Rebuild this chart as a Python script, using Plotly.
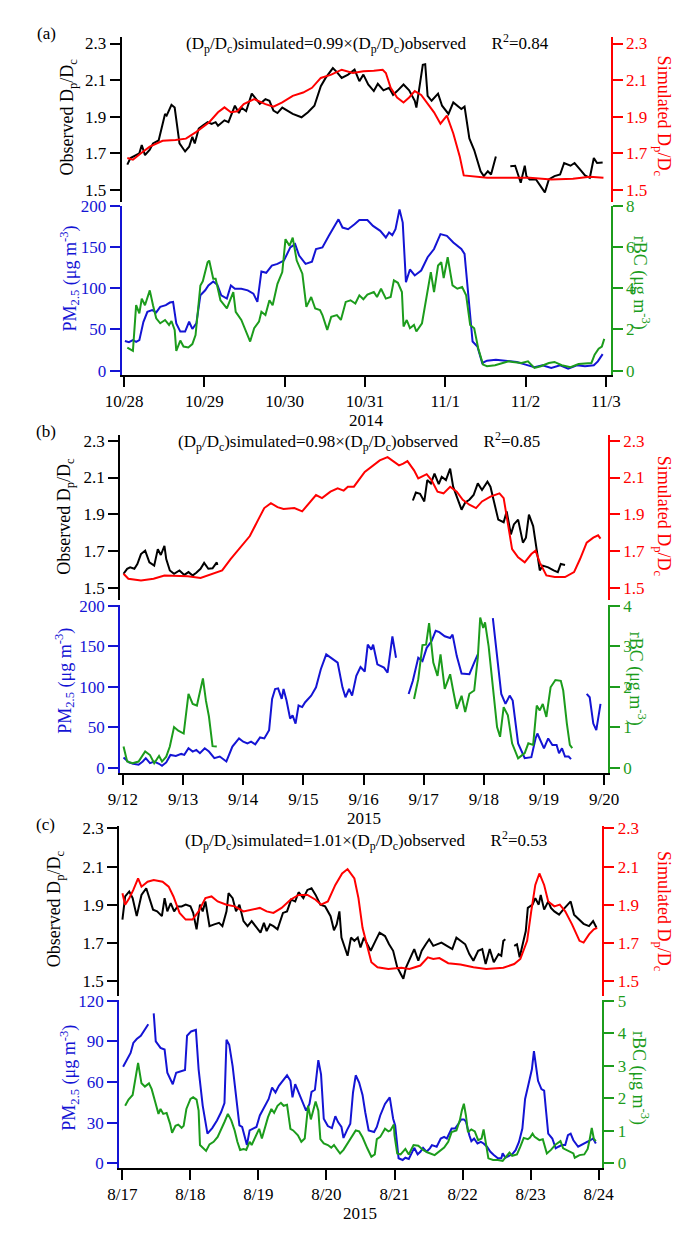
import plotly.graph_objects as go

GAP = (None, None)

# ---------------- panel (a): 2014, days after 10/28 00:00 ----------------
a_ticks = ["10/28", "10/29", "10/30", "10/31", "11/1", "11/2", "11/3"]
a_obs = [(0.04, 1.638), (0.08, 1.674), (0.19, 1.70), (0.22, 1.745), (0.26, 1.69), (0.32, 1.72),
         (0.36, 1.754), (0.43, 1.77), (0.51, 1.915), (0.53, 1.906), (0.59, 1.965), (0.63, 1.95),
         (0.69, 1.754), (0.76, 1.71), (0.81, 1.736), (0.85, 1.79), (0.88, 1.754), (0.93, 1.835),
         (0.98, 1.852), (1.04, 1.87), (1.09, 1.86), (1.14, 1.87), (1.17, 1.85), (1.25, 1.88),
         (1.30, 1.87), (1.38, 1.96), (1.43, 1.92), (1.46, 1.95), (1.52, 1.93), (1.59, 2.026),
         (1.62, 2.01), (1.69, 1.97), (1.76, 1.996), (1.81, 1.987), (1.86, 1.933), (1.91, 1.92),
         (1.97, 1.95), (2.03, 1.933), (2.10, 1.915), (2.21, 1.897), (2.29, 1.924), (2.37, 1.96),
         (2.45, 2.067), (2.51, 2.112), (2.55, 2.139), (2.60, 2.166), (2.65, 2.144), (2.71, 2.112),
         (2.79, 2.13), (2.87, 2.157), (2.93, 2.094), (2.98, 2.13), (3.04, 2.076), (3.11, 2.04),
         (3.16, 2.08), (3.23, 2.044), (3.30, 2.058), (3.35, 2.019), (3.40, 2.04), (3.48, 2.076),
         (3.55, 2.044), (3.62, 1.987), (3.64, 1.95), (3.68, 2.058), (3.72, 2.184), (3.75, 2.187),
         (3.78, 2.014), (3.83, 1.987), (3.91, 2.026), (3.96, 1.96), (4.04, 1.915), (4.10, 1.978),
         (4.15, 1.96), (4.20, 1.942), (4.24, 1.955), (4.30, 1.781), (4.36, 1.718), (4.44, 1.602),
         (4.48, 1.575), (4.53, 1.602), (4.57, 1.584), (4.63, 1.683), GAP,
         (4.81, 1.629), (4.87, 1.632), (4.94, 1.539), (4.99, 1.632), (5.01, 1.575), (5.05, 1.557),
         (5.13, 1.557), (5.19, 1.521), (5.24, 1.486), (5.29, 1.557), (5.36, 1.575), (5.43, 1.584),
         (5.48, 1.647), (5.56, 1.632), (5.61, 1.647), (5.68, 1.611), (5.74, 1.579), (5.80, 1.566),
         (5.85, 1.674), (5.89, 1.647), (5.96, 1.650)]
a_sim = [(0.04, 1.674), (0.11, 1.665), (0.21, 1.70), (0.32, 1.736), (0.48, 1.768), (0.64, 1.772),
         (0.77, 1.78), (0.90, 1.817), (1.06, 1.87), (1.17, 1.924), (1.25, 1.951), (1.33, 1.924),
         (1.41, 1.93), (1.49, 1.969), (1.62, 1.996), (1.76, 1.969), (1.86, 1.955), (1.97, 1.978),
         (2.10, 2.014), (2.23, 2.032), (2.34, 2.058), (2.45, 2.112), (2.58, 2.13), (2.71, 2.157),
         (2.85, 2.139), (2.98, 2.148), (3.11, 2.151), (3.22, 2.157), (3.26, 2.139), (3.32, 2.058),
         (3.40, 2.005), (3.48, 1.978), (3.55, 2.005), (3.62, 2.04), (3.70, 2.019), (3.78, 1.969),
         (3.86, 1.924), (3.94, 1.862), (4.02, 1.906), (4.10, 1.808), (4.18, 1.683), (4.23, 1.579),
         (4.31, 1.575), (4.52, 1.566), (4.79, 1.566), (5.05, 1.566), (5.32, 1.557), (5.59, 1.561),
         (5.80, 1.572), (5.97, 1.566)]
a_pm = [(0.01, 36), (0.06, 34.5), (0.11, 37), (0.15, 35), (0.19, 37), (0.24, 59), (0.29, 71.5),
        (0.35, 73.5), (0.40, 70.7), (0.45, 77.5), (0.52, 79.5), (0.57, 82.7), (0.61, 83.5),
        (0.65, 57.4), (0.70, 47.4), (0.76, 47.4), (0.81, 59.4), (0.85, 50.6), (0.90, 57.4),
        (0.95, 91.6), (1.01, 97.6), (1.05, 103.6), (1.11, 108.4), (1.16, 104.4), (1.21, 91.6),
        (1.28, 87.6), (1.33, 103.6), (1.38, 99.6), (1.46, 99.6), (1.54, 97.6), (1.61, 93.6),
        (1.66, 83.5), (1.71, 120.5), (1.77, 118.9), (1.84, 127.7), (1.91, 129.7), (1.99, 133.7),
        (2.07, 149.8), (2.13, 153.8), (2.18, 139.8), (2.26, 129.7), (2.34, 132.5), (2.39, 147.8),
        (2.47, 149.8), (2.55, 163.9), (2.63, 177.9), (2.67, 183.9), (2.72, 173.9), (2.79, 171.9),
        (2.87, 177.9), (2.93, 183.1), (3.03, 183.1), (3.10, 175.9), (3.19, 169.9), (3.26, 161.8),
        (3.30, 167.9), (3.34, 164.7), (3.38, 171.9), (3.43, 196), (3.47, 179.9), (3.51, 107.6),
        (3.56, 122.9), (3.62, 115.7), (3.70, 121.7), (3.78, 137.8), (3.86, 147.8), (3.94, 165.9),
        (4.02, 163.9), (4.10, 155.8), (4.20, 147.8), (4.24, 141.8), (4.34, 35.3), (4.40, 29.3),
        (4.46, 9.2), (4.52, 12), (4.63, 13.3), (4.79, 11.2), (4.89, 10.4), (5.00, 7.2), (5.11, 4),
        (5.21, 6.4), (5.32, 3.2), (5.43, 6.4), (5.53, 2.4), (5.64, 6.4), (5.74, 5.2), (5.85, 6.4),
        (5.90, 11.2), (5.96, 20)]
a_bc = [(0.04, 1.12), (0.11, 0.96), (0.15, 3.18), (0.19, 2.78), (0.22, 3.50), (0.26, 3.18),
        (0.28, 3.42), (0.32, 3.90), (0.36, 3.18), (0.40, 2.54), (0.45, 2.30), (0.51, 2.46),
        (0.56, 2.22), (0.59, 2.41), (0.63, 1.98), (0.65, 0.96), (0.70, 1.46), (0.74, 1.17),
        (0.80, 1.12), (0.85, 1.29), (0.89, 1.73), (0.95, 4.14), (0.98, 4.34), (1.04, 5.27),
        (1.06, 5.35), (1.11, 4.47), (1.14, 4.47), (1.20, 3.42), (1.28, 3.02), (1.36, 3.82),
        (1.39, 2.86), (1.46, 2.46), (1.57, 1.41), (1.62, 2.06), (1.68, 2.38), (1.71, 2.86),
        (1.76, 2.70), (1.81, 3.42), (1.85, 3.18), (1.91, 4.22), (1.97, 4.79), (2.01, 6.39),
        (2.06, 6.07), (2.10, 6.47), (2.15, 5.35), (2.22, 4.71), (2.27, 3.10), (2.33, 3.58),
        (2.38, 3.02), (2.44, 2.94), (2.47, 2.70), (2.53, 1.98), (2.58, 2.62), (2.65, 2.70),
        (2.70, 2.46), (2.76, 3.34), (2.82, 3.42), (2.88, 3.26), (2.93, 3.66), (2.98, 3.47),
        (3.03, 3.70), (3.11, 3.82), (3.15, 3.58), (3.20, 3.98), (3.26, 3.50), (3.32, 3.58),
        (3.36, 4.39), (3.41, 4.27), (3.46, 3.82), (3.48, 2.14), (3.52, 2.46), (3.56, 2.06),
        (3.61, 2.22), (3.64, 1.90), (3.71, 2.30), (3.77, 3.58), (3.82, 4.79), (3.86, 3.82),
        (3.91, 5.11), (3.95, 5.27), (3.98, 4.50), (4.03, 5.51), (4.09, 4.14), (4.15, 3.98),
        (4.21, 4.06), (4.26, 3.66), (4.31, 2.22), (4.36, 2.06), (4.41, 1.09), (4.47, 0.29),
        (4.52, 0.21), (4.62, 0.26), (4.79, 0.45), (4.84, 0.42), (4.95, 0.37), (5.03, 0.45),
        (5.11, 0.13), (5.19, 0.21), (5.29, 0.37), (5.36, 0.42), (5.45, 0.26), (5.56, 0.16),
        (5.66, 0.32), (5.82, 0.37), (5.86, 0.77), (5.91, 1.06), (5.95, 1.17), (5.98, 1.54)]

# ---------------- panel (b): 2015, days after 9/12 00:00 ----------------
b_ticks = ["9/12", "9/13", "9/14", "9/15", "9/16", "9/17", "9/18", "9/19", "9/20"]
b_obs = [(0.01, 1.577), (0.07, 1.604), (0.12, 1.612), (0.19, 1.604), (0.24, 1.630), (0.30, 1.684),
         (0.37, 1.702), (0.44, 1.639), (0.52, 1.621), (0.58, 1.711), (0.63, 1.679), (0.69, 1.729),
         (0.72, 1.657), (0.78, 1.595), (0.85, 1.577), (0.94, 1.595), (1.02, 1.571), (1.09, 1.586),
         (1.16, 1.568), (1.22, 1.582), (1.29, 1.604), (1.35, 1.636), (1.42, 1.604), (1.49, 1.607),
         (1.56, 1.639), (1.57, 1.625), GAP,
         (4.82, 1.975), (4.87, 2.018), (4.94, 2.011), (5.01, 1.970), (5.06, 2.086), (5.12, 2.068),
         (5.18, 2.121), (5.25, 2.064), (5.30, 2.104), (5.37, 2.086), (5.44, 2.148), (5.49, 2.05),
         (5.55, 1.996), (5.63, 1.925), (5.69, 1.964), (5.76, 1.979), (5.83, 2.005), (5.90, 2.068),
         (5.97, 2.032), (6.06, 2.077), (6.11, 2.05), (6.17, 1.961), (6.24, 1.871), (6.33, 1.857),
         (6.38, 1.916), (6.45, 1.791), (6.50, 1.845), (6.57, 1.871), (6.65, 1.746), (6.70, 1.773),
         (6.75, 1.898), (6.82, 1.836), (6.88, 1.702), (6.93, 1.595), (6.98, 1.621), (7.07, 1.612),
         (7.16, 1.595), (7.23, 1.586), (7.28, 1.630), (7.35, 1.625)]
b_sim = [(0.01, 1.577), (0.09, 1.55), (0.30, 1.541), (0.51, 1.55), (0.69, 1.568), (0.87, 1.568),
         (1.08, 1.564), (1.29, 1.554), (1.50, 1.577), (1.65, 1.595), (1.79, 1.657), (1.93, 1.711),
         (2.11, 1.782), (2.25, 1.871), (2.35, 1.934), (2.46, 1.961), (2.57, 1.939), (2.67, 1.929),
         (2.85, 1.934), (2.98, 1.916), (3.10, 1.961), (3.21, 2.005), (3.31, 1.988), (3.45, 2.023),
         (3.57, 2.041), (3.67, 2.029), (3.74, 2.05), (3.84, 2.05), (4.02, 2.13), (4.16, 2.166),
         (4.27, 2.193), (4.40, 2.211), (4.48, 2.193), (4.59, 2.166), (4.66, 2.175), (4.73, 2.189),
         (4.84, 2.139), (4.91, 2.095), (5.05, 2.118), (5.13, 2.086), (5.23, 2.023), (5.33, 2.014),
         (5.44, 2.05), (5.55, 2.023), (5.65, 1.979), (5.76, 1.952), (5.87, 1.934), (5.97, 1.970),
         (6.11, 1.996), (6.26, 2.014), (6.33, 1.988), (6.40, 1.836), (6.47, 1.711), (6.57, 1.666),
         (6.68, 1.639), (6.79, 1.684), (6.86, 1.702), (6.93, 1.639), (7.04, 1.568), (7.18, 1.559),
         (7.35, 1.559), (7.50, 1.586), (7.60, 1.657), (7.71, 1.746), (7.82, 1.773), (7.90, 1.786),
         (7.94, 1.768)]
b_pm = [(0.01, 13), (0.10, 6.9), (0.17, 5.3), (0.26, 4.1), (0.33, 8.1), (0.38, 12.2), (0.45, 6.1),
        (0.52, 8.1), (0.60, 5.3), (0.65, 2.8), (0.72, 6.9), (0.79, 16.2), (0.88, 15), (0.97, 17.4),
        (1.02, 16.2), (1.09, 24.3), (1.16, 20.3), (1.22, 22.3), (1.28, 18.3), (1.36, 24.3),
        (1.43, 20.3), (1.52, 12.2), (1.61, 14.2), (1.72, 8.1), (1.82, 26.4), (1.93, 36.5),
        (2.00, 32.5), (2.07, 30.4), (2.13, 32.5), (2.20, 29.2), (2.28, 37.7), (2.35, 36.5),
        (2.43, 46.7), (2.48, 85.2), (2.53, 97.4), (2.58, 98.2), (2.64, 85.2), (2.67, 97.4),
        (2.72, 83.2), (2.78, 60.9), (2.82, 64.9), (2.87, 54.8), (2.92, 77.1), (2.98, 75.1),
        (3.03, 81.1), (3.13, 89.2), (3.21, 99.4), (3.29, 121.7), (3.38, 140), (3.49, 133.9),
        (3.57, 129.8), (3.65, 99.4), (3.70, 87.2), (3.76, 97.4), (3.81, 89.2), (3.88, 113.6),
        (3.95, 124.5), (4.02, 118.9), (4.07, 152.1), (4.13, 146), (4.16, 152.1), (4.23, 127.8),
        (4.34, 123.7), (4.40, 117.6), (4.48, 162.3), (4.54, 135.9), GAP,
        (4.75, 91.3), (4.82, 107.5), (4.91, 135.9), (4.98, 131.8), (5.05, 148.1), (5.13, 156.2),
        (5.20, 169.2), (5.26, 167.5), (5.35, 162.3), (5.44, 160.2), (5.48, 164.3), (5.55, 137.9),
        (5.63, 116.4), (5.76, 115.6), (5.84, 129.8), (5.90, 140), GAP,
        (6.15, 184.6), (6.22, 135.9), (6.29, 91.3), (6.36, 79.1), (6.43, 89.2), (6.48, 83.2),
        (6.57, 30.4), (6.68, 12.2), (6.79, 13.4), (6.86, 36.5), (6.89, 42.6), (7.00, 24.3),
        (7.07, 36.5), (7.14, 28.4), (7.21, 28.4), (7.25, 18.3), (7.30, 24.3), (7.35, 14.2),
        (7.41, 14.2), (7.45, 11), GAP,
        (7.71, 91.3), (7.76, 87.2), (7.82, 54.8), (7.87, 46.7), (7.94, 79.1)]
b_bc = [(0.01, 0.53), (0.07, 0.16), (0.16, 0.12), (0.26, 0.16), (0.37, 0.41), (0.45, 0.32),
        (0.52, 0.12), (0.60, 0.30), (0.65, 0.16), (0.72, 0.28), (0.78, 0.53), (0.85, 1.01),
        (0.92, 0.92), (1.01, 0.85), (1.09, 1.83), (1.16, 1.58), (1.23, 1.54), (1.29, 1.91),
        (1.33, 2.21), (1.38, 1.66), (1.43, 1.27), (1.49, 0.54), (1.56, 0.53), GAP,
        (4.84, 1.70), (4.91, 2.19), (4.98, 3.03), (5.04, 3.04), (5.09, 3.57), (5.16, 2.60),
        (5.23, 2.27), (5.28, 2.80), (5.35, 1.95), (5.44, 2.31), (5.49, 1.91), (5.55, 1.46),
        (5.63, 1.78), (5.69, 1.38), (5.76, 1.83), (5.84, 1.91), (5.90, 2.72), (5.94, 3.71),
        (5.99, 3.45), (6.02, 3.59), (6.08, 3.00), (6.15, 2.07), (6.22, 1.01), (6.27, 0.77),
        (6.33, 1.50), (6.40, 1.30), (6.47, 0.61), (6.57, 0.24), (6.68, 0.37), (6.74, 0.61),
        (6.82, 0.57), (6.88, 1.54), (6.93, 1.42), (6.98, 1.58), (7.04, 1.26), (7.11, 1.99),
        (7.19, 2.17), (7.28, 2.15), (7.32, 1.91), (7.38, 1.10), (7.43, 0.57), (7.47, 0.49)]

# ---------------- panel (c): 2015, days after 8/17 00:00 ----------------
c_ticks = ["8/17", "8/18", "8/19", "8/20", "8/21", "8/22", "8/23", "8/24"]
c_obs = [(0.00, 1.823), (0.04, 1.944), (0.10, 1.970), (0.15, 1.935), (0.21, 1.841), (0.28, 1.952),
         (0.35, 1.987), (0.40, 1.935), (0.45, 1.875), (0.51, 1.866), (0.58, 1.841), (0.62, 1.935),
         (0.66, 1.866), (0.71, 1.909), (0.76, 1.866), (0.81, 1.892), (0.87, 1.892), (0.93, 1.901),
         (1.00, 1.892), (1.04, 1.858), (1.09, 1.772), (1.14, 1.901), (1.18, 1.866), (1.22, 1.918),
         (1.28, 1.789), (1.35, 1.798), (1.42, 1.806), (1.47, 1.789), (1.53, 1.866), (1.56, 1.961),
         (1.62, 1.935), (1.67, 1.866), (1.72, 1.901), (1.78, 1.815), (1.84, 1.789), (1.90, 1.815),
         (1.97, 1.780), (2.03, 1.755), (2.08, 1.806), (2.12, 1.763), (2.17, 1.798), (2.22, 1.789),
         (2.28, 1.772), (2.36, 1.858), (2.42, 1.866), (2.48, 1.927), (2.54, 1.918), (2.59, 1.966),
         (2.66, 1.935), (2.72, 1.978), (2.78, 1.987), (2.84, 1.952), (2.91, 1.901), (2.98, 1.892),
         (3.06, 1.841), (3.11, 1.767), (3.15, 1.798), (3.19, 1.866), (3.22, 1.729), (3.27, 1.669),
         (3.31, 1.634), (3.36, 1.729), (3.41, 1.712), (3.46, 1.729), (3.50, 1.677), (3.55, 1.729),
         (3.60, 1.694), (3.65, 1.660), (3.72, 1.712), (3.78, 1.755), (3.86, 1.737), (3.92, 1.694),
         (3.98, 1.660), (4.04, 1.574), (4.09, 1.540), (4.13, 1.514), (4.17, 1.574), (4.24, 1.626),
         (4.29, 1.669), (4.35, 1.608), (4.40, 1.660), (4.46, 1.694), (4.51, 1.720), (4.57, 1.686),
         (4.63, 1.694), (4.69, 1.703), (4.77, 1.686), (4.85, 1.669), (4.91, 1.729), (4.97, 1.712),
         (5.04, 1.694), (5.10, 1.643), (5.16, 1.608), (5.23, 1.660), (5.29, 1.669), (5.34, 1.591),
         (5.40, 1.669), (5.46, 1.600), (5.53, 1.643), (5.57, 1.634), (5.60, 1.712), (5.63, 1.720),
         GAP,
         (5.76, 1.686), (5.80, 1.694), (5.84, 1.626), (5.88, 1.686), (5.93, 1.763), (5.96, 1.884),
         (6.03, 1.901), (6.07, 1.935), (6.12, 1.901), (6.15, 1.952), (6.20, 1.875), (6.26, 1.918),
         (6.30, 1.884), (6.35, 1.866), (6.42, 1.849), (6.48, 1.875), (6.54, 1.901), (6.59, 1.918),
         (6.64, 1.849), (6.72, 1.823), (6.78, 1.801), (6.86, 1.789), (6.92, 1.815), (6.97, 1.780)]
c_sim = [(0.00, 1.961), (0.04, 1.901), (0.10, 1.935), (0.16, 1.978), (0.23, 2.038), (0.28, 1.995),
         (0.37, 2.021), (0.46, 2.030), (0.59, 2.021), (0.68, 1.995), (0.75, 1.944), (0.84, 1.858),
         (0.93, 1.823), (1.03, 1.823), (1.12, 1.866), (1.22, 1.935), (1.31, 1.944), (1.40, 1.918),
         (1.53, 1.901), (1.65, 1.892), (1.78, 1.866), (1.90, 1.875), (2.02, 1.884), (2.12, 1.866),
         (2.22, 1.858), (2.34, 1.884), (2.47, 1.927), (2.59, 1.952), (2.72, 1.952), (2.84, 1.927),
         (2.92, 1.901), (3.02, 1.918), (3.13, 2.004), (3.23, 2.064), (3.31, 2.087), (3.41, 2.038),
         (3.47, 1.935), (3.53, 1.780), (3.60, 1.677), (3.66, 1.600), (3.75, 1.574), (3.91, 1.565),
         (4.10, 1.571), (4.22, 1.565), (4.38, 1.583), (4.49, 1.626), (4.57, 1.617), (4.66, 1.622),
         (4.79, 1.595), (4.97, 1.588), (5.16, 1.574), (5.35, 1.565), (5.60, 1.571), (5.76, 1.591),
         (5.85, 1.617), (5.95, 1.712), (6.01, 1.866), (6.07, 2.004), (6.13, 2.064), (6.20, 2.004),
         (6.26, 1.918), (6.35, 1.892), (6.43, 1.901), (6.51, 1.866), (6.61, 1.798), (6.72, 1.712),
         (6.78, 1.703), (6.86, 1.746), (6.93, 1.772), (6.98, 1.780)]
c_pm = [(0.01, 71.3), (0.07, 76.7), (0.12, 81.5), (0.16, 88.9), (0.21, 91.8), (0.27, 94.2),
        (0.33, 99.1), (0.38, 102.7), GAP,
        (0.46, 110.8), (0.49, 90.1), (0.56, 85.2), (0.62, 84), (0.66, 66.9), (0.71, 62.1),
        (0.74, 58.4), (0.79, 66.9), (0.86, 68.2), (0.92, 68.9), (0.95, 94.2), (1.01, 97.4),
        (1.08, 98.6), (1.12, 69.4), (1.18, 42.6), (1.25, 21.9), (1.32, 26), (1.39, 31.6),
        (1.45, 37.7), (1.50, 44.5), (1.53, 91.3), (1.57, 87.6), (1.62, 71.8), (1.67, 47.5),
        (1.72, 28), (1.76, 26.8), (1.80, 18.3), (1.83, 13.4), (1.87, 24.3), (1.93, 25.6),
        (1.97, 26.8), (2.02, 35.3), (2.09, 41.4), (2.15, 47.5), (2.20, 56), (2.25, 52.3),
        (2.30, 57.2), (2.36, 60.9), (2.42, 65), (2.47, 60.9), (2.50, 48.7), (2.54, 58.4),
        (2.59, 52.3), (2.64, 46.3), (2.70, 38.9), (2.75, 43.8), (2.78, 52.8), (2.83, 54.3),
        (2.88, 76.2), (2.92, 65.7), (2.96, 32.9), (3.02, 27.5), (3.08, 26), (3.13, 34.8),
        (3.17, 30.4), (3.22, 26.8), (3.25, 18.7), (3.30, 24.3), (3.35, 29.2), (3.39, 52.3),
        (3.43, 65), (3.48, 59.6), (3.53, 50.5), (3.57, 37.7), (3.62, 24.3), (3.70, 23.1),
        (3.74, 26.8), (3.79, 35.3), (3.86, 43.8), (3.93, 48.7), (3.98, 32.9), (4.01, 28),
        (4.06, 3.7), (4.12, 2.4), (4.16, 4.1), (4.21, 3.2), (4.26, 8.5), (4.29, 11.4), (4.34, 6.6),
        (4.38, 8.5), (4.42, 11.4), (4.47, 8.5), (4.52, 11), (4.55, 13.4), (4.62, 12.2),
        (4.68, 18.3), (4.73, 19.5), (4.77, 18.3), (4.84, 25.6), (4.89, 25.6), (4.94, 29.2),
        (4.98, 32.4), (5.02, 32.4), (5.05, 30.9), (5.10, 20.7), (5.13, 16.3), (5.17, 18.3),
        (5.22, 14.6), (5.27, 15.8), (5.31, 14.6), (5.36, 12.2), (5.41, 8.5), (5.46, 6.1),
        (5.52, 3.7), (5.57, 3.7), (5.59, 7.3), (5.63, 4.1), (5.69, 5.6), (5.73, 6.6), (5.78, 9.7),
        (5.83, 15.8), (5.88, 25.6), (5.92, 47.5), (5.97, 58.4), (6.02, 69.4), (6.05, 82.8),
        (6.07, 74.2), (6.11, 60.9), (6.16, 54.8), (6.20, 53.6), (6.23, 37.7), (6.26, 21.9),
        (6.32, 18.3), (6.37, 11), (6.41, 12.2), (6.46, 13.4), (6.51, 13.4), (6.55, 20.7),
        (6.59, 21.9), (6.63, 17), (6.70, 12.2), (6.77, 13.9), (6.84, 15.8), (6.88, 17),
        (6.92, 18.3), (6.96, 14.6)]
c_bc = [(0.04, 1.77), (0.09, 1.96), (0.15, 2.10), (0.20, 2.79), (0.23, 3.09), (0.28, 2.46),
        (0.33, 2.36), (0.39, 2.46), (0.43, 2.28), (0.48, 1.90), (0.53, 1.52), (0.56, 1.67),
        (0.60, 1.52), (0.65, 1.55), (0.70, 1.22), (0.73, 0.94), (0.78, 1.15), (0.82, 1.19),
        (0.87, 1.09), (0.90, 1.15), (0.94, 1.67), (1.00, 1.98), (1.04, 2.03), (1.09, 1.96),
        (1.12, 1.62), (1.14, 0.56), (1.18, 0.48), (1.23, 0.38), (1.28, 0.58), (1.34, 0.66),
        (1.40, 0.81), (1.46, 1.06), (1.50, 1.27), (1.55, 1.52), (1.60, 1.32), (1.65, 1.01),
        (1.69, 0.66), (1.73, 0.41), (1.78, 0.44), (1.82, 0.41), (1.87, 0.66), (1.90, 0.56),
        (1.97, 0.91), (2.01, 1.06), (2.05, 0.76), (2.09, 1.06), (2.14, 1.42), (2.19, 1.67),
        (2.23, 1.55), (2.28, 1.77), (2.33, 1.86), (2.37, 1.77), (2.42, 1.80), (2.47, 1.06),
        (2.51, 1.01), (2.58, 0.86), (2.63, 0.66), (2.68, 0.76), (2.73, 1.77), (2.77, 1.35),
        (2.81, 1.62), (2.84, 1.90), (2.88, 1.62), (2.91, 0.74), (2.96, 0.61), (3.02, 0.56),
        (3.07, 0.48), (3.11, 0.56), (3.15, 0.44), (3.20, 0.30), (3.25, 0.41), (3.31, 0.61),
        (3.38, 0.88), (3.43, 1.01), (3.48, 0.98), (3.53, 0.80), (3.60, 0.46), (3.66, 0.20),
        (3.71, 0.27), (3.74, 0.74), (3.79, 0.81), (3.86, 1.06), (3.91, 0.98), (3.94, 1.01),
        (3.99, 1.19), (4.00, 0.86), (4.04, 0.30), (4.09, 0.27), (4.16, 0.44), (4.21, 0.27),
        (4.28, 0.56), (4.35, 0.54), (4.42, 0.41), (4.49, 0.33), (4.59, 0.25), (4.66, 0.38),
        (4.73, 0.48), (4.79, 0.66), (4.84, 0.96), (4.91, 1.01), (4.96, 1.32), (4.99, 1.62),
        (5.02, 1.83), (5.05, 1.47), (5.08, 0.96), (5.13, 1.04), (5.18, 0.98), (5.23, 0.71),
        (5.28, 0.76), (5.31, 1.04), (5.35, 0.46), (5.38, 0.15), (5.45, 0.10), (5.52, 0.10),
        (5.59, 0.07), (5.64, 0.20), (5.69, 0.33), (5.73, 0.23), (5.80, 0.27), (5.85, 0.51),
        (5.90, 0.78), (5.96, 0.74), (5.99, 0.78), (6.03, 0.91), (6.06, 0.81), (6.13, 0.71),
        (6.18, 0.74), (6.24, 0.30), (6.30, 0.41), (6.37, 0.58), (6.44, 0.68), (6.48, 0.46),
        (6.55, 0.38), (6.63, 0.30), (6.65, 0.17), (6.72, 0.25), (6.79, 0.27), (6.84, 0.44),
        (6.87, 0.74), (6.90, 1.09), (6.93, 0.76), (6.96, 0.68)]

# fit results printed in each panel: slope, R^2
a_fit = ("0.99", "0.84")
b_fit = ("0.98", "0.85")
c_fit = ("1.01", "0.53")

# ---------------- layout (pixel positions in a 699x1244 page) ----------------
W, H = 699, 1244
FONT = "Liberation Serif, Times New Roman, serif"
BLACK, RED, BLUE, GREEN = "#000000", "#ff0000", "#1414d4", "#1c9c1c"
SP = "\u00a0" * 6


def fx(p):
    return p / W


def fy(p):
    return 1 - p / H


panels = [
    dict(ticks=a_ticks, year="2014", data=(a_obs, a_sim, a_pm, a_bc), fit=a_fit, label="(a)",
         xdom=(109.3, 619.3), xr=(-0.029, 6.059), top=(28, 195), topr=(1.4356, 2.3376),
         bot=(199, 370), pmr=(-4.82, 200.6), pmt=[0, 50, 100, 150, 200],
         bcr=(-0.193, 8.024), bct=[0, 2, 4, 6, 8],
         lab=(31, 25), tit=(366, 35), obs=(54, 109), sim=(673, 108), pm=(55, 273), bc=(651, 277),
         yr=(365, 417)),
    dict(ticks=b_ticks, year="2015", data=(b_obs, b_sim, b_pm, b_bc), fit=b_fit, label="(b)",
         xdom=(107.5, 616.3), xr=(-0.048, 8.06), top=(431, 598), topr=(1.4356, 2.332),
         bot=(603, 773), pmr=(-5.7, 201.2), pmt=[0, 50, 100, 150, 200],
         bcr=(-0.114, 4.024), bct=[0, 1, 2, 3, 4],
         lab=(30, 428), tit=(357, 438), obs=(51, 513), sim=(673, 513), pm=(50, 680), bc=(647, 678),
         yr=(362, 819)),
    dict(ticks=c_ticks, year="2015", data=(c_obs, c_sim, c_pm, c_bc), fit=c_fit, label="(c)",
         xdom=(106.7, 610.7), xr=(-0.0465, 7.056), top=(827, 999), topr=(1.424, 2.3119),
         bot=(1003, 1173), pmr=(-3.4, 120.7), pmt=[0, 30, 60, 90, 120],
         bcr=(-0.143, 5.03), bct=[0, 1, 2, 3, 4, 5],
         lab=(30, 825), tit=(364, 842), obs=(40, 911), sim=(673, 913), pm=(55, 1082), bc=(650, 1082),
         yr=(358, 1219)),
]

fig = go.Figure()
ann = []
lay = {}


def yax(color, dom, rng, vals, fmt, side="left", overlay=None, anchor="x"):
    d = dict(range=list(rng), tickmode="array", tickvals=vals, tickformat=fmt,
             showline=True, linecolor=color, linewidth=2, ticks="outside", ticklen=10,
             tickwidth=2, tickcolor=color, showgrid=False, zeroline=False,
             tickfont=dict(family=FONT, size=17, color=color), side=side, anchor=anchor)
    if overlay:
        d["overlaying"] = overlay
    else:
        d["domain"] = [fy(dom[1]), fy(dom[0])]
    return d


for i, p in enumerate(panels):
    xn = "x" if i == 0 else f"x{i + 1}"
    yn = [f"y{4 * i + k + 1}" if 4 * i + k > 0 else "y" for k in range(4)]
    lay["xaxis" if i == 0 else f"xaxis{i + 1}"] = dict(
        domain=[fx(p["xdom"][0]), fx(p["xdom"][1])], range=list(p["xr"]), anchor=yn[2],
        tickmode="array", tickvals=list(range(len(p["ticks"]))), ticktext=p["ticks"],
        showline=True, linecolor=BLACK, linewidth=2, ticks="outside", ticklen=10, tickwidth=2,
        tickcolor=BLACK, showgrid=False, zeroline=False,
        tickfont=dict(family=FONT, size=17, color=BLACK))
    keys = ["yaxis" if n == "y" else "yaxis" + n[1:] for n in yn]
    lay[keys[0]] = yax(BLACK, p["top"], p["topr"], [1.5, 1.7, 1.9, 2.1, 2.3], ".1f", anchor=xn)
    lay[keys[1]] = yax(RED, None, p["topr"], [1.5, 1.7, 1.9, 2.1, 2.3], ".1f", "right", yn[0], xn)
    lay[keys[2]] = yax(BLUE, p["bot"], p["pmr"], p["pmt"], "d", anchor=xn)
    lay[keys[3]] = yax(GREEN, None, p["bcr"], p["bct"], "d", "right", yn[2], xn)

    for series, color, ya in zip(p["data"], (BLACK, RED, BLUE, GREEN), yn):
        t = [pt[0] for pt in series]
        v = [pt[1] for pt in series]
        fig.add_trace(go.Scatter(x=t, y=v, mode="lines", xaxis=xn, yaxis=ya,
                                 line=dict(color=color, width=2), showlegend=False,
                                 connectgaps=False))

    def note(text, pos, color=BLACK, size=18, angle=0):
        ann.append(dict(text=text, x=fx(pos[0]), y=fy(pos[1]), xref="paper", yref="paper",
                        showarrow=False, textangle=angle, xanchor="center", yanchor="middle",
                        font=dict(family=FONT, size=size, color=color)))

    dpdc = "D<sub>p</sub>/D<sub>c</sub>"
    note(p["label"], p["lab"], size=17)
    note(f"({dpdc})simulated={p['fit'][0]}×({dpdc})observed{SP}R<sup>2</sup>={p['fit'][1]}",
         p["tit"], size=17)
    note(f"Observed {dpdc}", p["obs"], angle=-90)
    note(f"Simulated {dpdc}", p["sim"], RED, angle=90)
    note("PM<sub>2.5</sub> (μg m<sup>-3</sup>)", p["pm"], BLUE, angle=-90)
    note("rBC (μg m<sup>-3</sup>)", p["bc"], GREEN, angle=90)
    note(p["year"], p["yr"], size=17)

fig.update_layout(width=W, height=H, margin=dict(l=0, r=0, t=0, b=0), autosize=False,
                  paper_bgcolor="white", plot_bgcolor="white", annotations=ann,
                  font=dict(family=FONT), **lay)

fig.write_html("out.html", config={"displayModeBar": False},
               post_script="document.body.style.margin='0';")
